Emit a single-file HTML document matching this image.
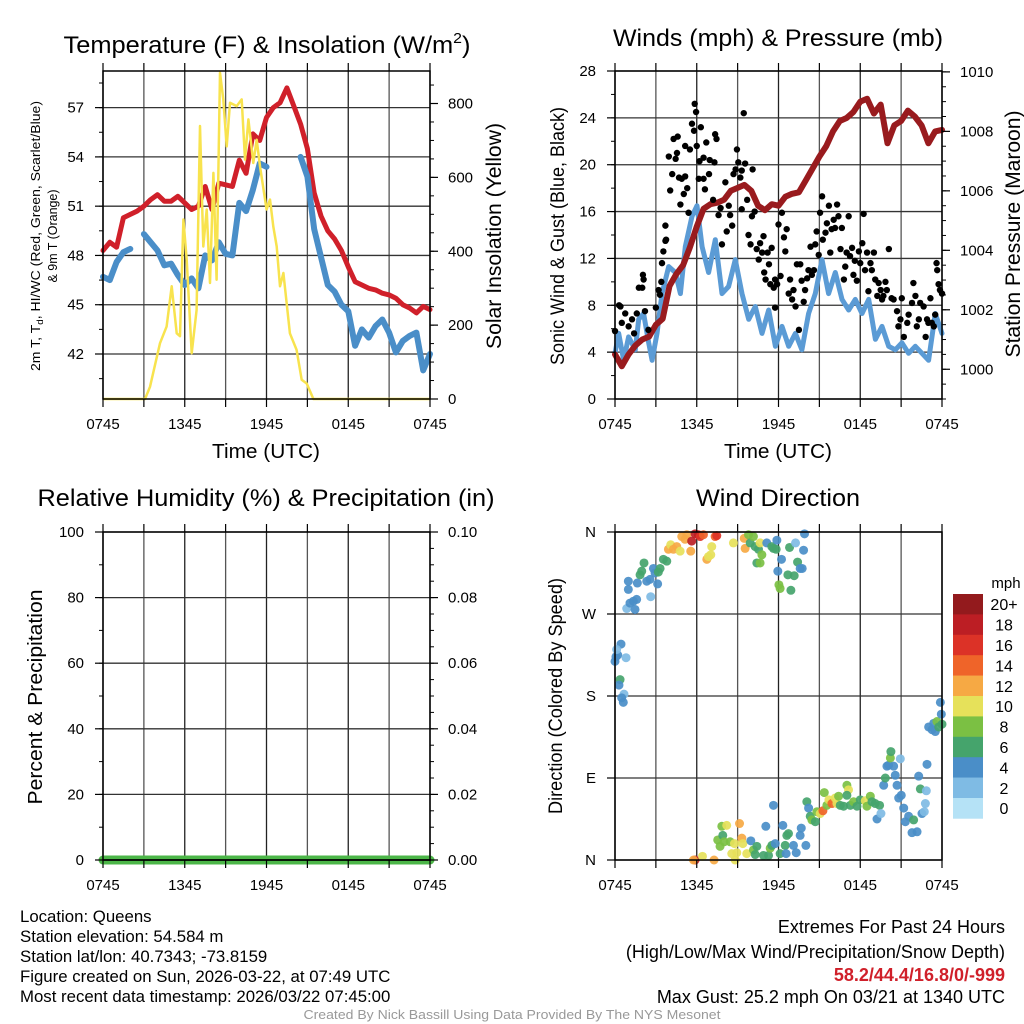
<!DOCTYPE html>
<html><head><meta charset="utf-8"><title>Queens Meteogram</title>
<style>
html,body{margin:0;padding:0;background:#fff;}
svg{display:block;font-family:"Liberation Sans",Arial,sans-serif;}
</style></head>
<body>
<svg id="chart" width="1024" height="1024" viewBox="0 0 1024 1024">
<rect x="0" y="0" width="1024" height="1024" fill="#fff"/>
<g id="layer-grid"></g>
<g id="layer-data"></g>
<g id="layer-axes"></g>
<g font-size="16.8" fill="#000">
<text x="20" y="922">Location: Queens</text>
<text x="20" y="942">Station elevation: 54.584 m</text>
<text x="20" y="962">Station lat/lon: 40.7343; -73.8159</text>
<text x="20" y="982">Figure created on Sun, 2026-03-22, at 07:49 UTC</text>
<text x="20" y="1002">Most recent data timestamp: 2026/03/22 07:45:00</text>
<text x="1005" y="933" text-anchor="end" font-size="18">Extremes For Past 24 Hours</text>
<text x="1005" y="958" text-anchor="end" font-size="18">(High/Low/Max Wind/Precipitation/Snow Depth)</text>
<text x="1005" y="981" text-anchor="end" font-size="18" fill="#d0202a" font-weight="bold">58.2/44.4/16.8/0/-999</text>
<text x="1005" y="1003" text-anchor="end" font-size="18">Max Gust: 25.2 mph On 03/21 at 1340 UTC</text>
<text x="512" y="1019" text-anchor="middle" font-size="13" fill="#999" textLength="417" lengthAdjust="spacingAndGlyphs">Created By Nick Bassill Using Data Provided By The NYS Mesonet</text>
</g>
</svg>
<script>
// ---------- DATA ----------
const timeTicks = ['0745','1345','1945','0145','0745'];
const halfHours = [0,0.5,1,1.5,2,2.5,3,3.5,4,4.5,5,5.5,6,6.5,7,7.5,8,8.5,9,9.5,10,10.5,11,11.5,12,12.5,13,13.5,14,14.5,15,15.5,16,16.5,17,17.5,18,18.5,19,19.5,20,20.5,21,21.5,22,22.5,23,23.5,24];
const tempRed = [48.3,48.8,48.5,50.3,50.5,50.7,51.0,51.4,51.7,51.3,51.3,51.6,51.2,50.8,51.0,52.2,50.8,52.4,52.3,52.2,53.8,53.0,55.4,55.0,56.4,57.0,57.3,58.2,57.1,56.0,54.5,51.8,50.4,49.5,49.0,48.3,47.3,46.4,46.2,46.0,45.9,45.7,45.6,45.4,45.0,44.8,44.5,44.9,44.7];
const tempBlue = [46.7,46.5,47.6,48.2,48.4,null,49.3,48.8,48.3,47.4,47.5,46.8,46.2,46.6,46.0,48.0,47.7,48.8,48.1,48.0,51.2,50.7,52.0,53.6,53.4,null,55.2,null,null,54.0,52.8,49.6,47.9,46.2,45.8,45.0,44.6,42.5,43.5,43.0,43.7,44.1,43.3,42.1,42.8,43.1,43.3,41.0,42.0];
const solarTimes = [0,3.08,3.45,4.18,4.67,5.04,5.41,5.65,5.9,6.14,6.51,6.87,7.12,7.36,7.61,7.85,8.1,8.34,8.59,8.83,9.08,9.32,9.81,10.18,10.42,10.67,11.03,11.28,11.52,12.01,12.26,12.5,12.75,12.99,13.24,13.72,14.21,14.58,14.95,15.44,24];
const solarVals = [0,0,33,151,196,305,178,170,486,377,124,241,739,413,513,314,612,323,883,811,684,802,793,811,648,757,639,702,630,513,540,467,413,305,341,178,133,52,42,0,0];
const pressure = [1000.5,1000.1,1000.5,1000.8,1001.0,1001.1,1001.5,1001.7,1002.8,1003.2,1003.5,1004.1,1004.8,1005.4,1005.55,1005.6,1005.7,1006.0,1006.1,1006.2,1006.0,1005.5,1005.35,1005.55,1005.5,1005.8,1005.9,1005.95,1006.35,1006.75,1007.15,1007.5,1008.0,1008.35,1008.45,1008.65,1009.0,1009.1,1008.6,1008.9,1007.6,1008.2,1008.35,1008.7,1008.5,1008.2,1007.6,1008.0,1008.05];
const windTimes = [0,0.27,0.64,1.0,1.49,1.74,2.1,2.47,2.72,3.08,3.45,3.94,4.43,4.8,5.16,5.65,6.02,6.39,6.87,7.36,7.85,8.34,8.83,9.32,9.81,10.3,10.79,11.28,11.77,12.26,12.75,13.24,13.72,14.21,14.7,15.19,15.68,16.17,16.66,17.15,17.64,18.13,18.62,19.11,19.6,20.09,20.57,21.06,21.55,22.04,22.53,23.02,23.51,24];
const windVals = [3.9,5.6,3.3,5.3,4.2,6.8,7.3,4.8,3.3,5.6,9.0,11.3,10.8,9.0,13.0,15.6,16.5,13.0,10.8,13.6,9.0,9.6,11.9,9.0,6.8,7.9,5.6,7.6,4.5,6.2,4.5,5.6,4.2,7.3,9.0,11.9,9.0,10.8,8.5,7.6,8.5,7.3,8.5,5.1,6.2,4.5,4.2,4.8,3.9,4.5,3.9,3.3,7.3,5.6];
const gustTimes = [0,0.3,0.4,0.5,0.75,1.0,1.25,1.4,1.6,1.75,2.0,2.05,2.1,2.2,2.45,3.0,3.2,3.3,3.4,3.45,3.55,3.7,3.75,3.7,3.95,4.05,4.2,4.3,4.45,4.55,4.6,4.7,4.8,4.9,5.05,5.15,5.15,5.3,5.4,5.5,5.65,5.8,5.85,5.95,6.0,6.15,6.2,6.3,6.5,6.5,6.6,6.7,6.9,6.95,7.2,7.3,7.35,7.45,7.6,7.75,7.85,8.1,8.2,8.35,8.45,8.6,8.7,8.85,8.95,9.05,9.2,9.3,9.3,9.45,9.55,9.7,9.8,9.95,10.05,10.1,10.25,10.4,10.55,10.65,10.8,10.9,10.95,11.05,11.2,11.3,11.4,11.5,11.65,11.75,11.9,11.75,12.0,12.15,12.25,12.4,12.5,12.6,12.75,12.85,13.0,13.1,13.25,13.5,13.35,13.6,13.7,13.85,13.95,14.1,14.2,14.35,14.45,14.6,14.7,14.8,14.95,15.05,15.2,15.25,15.45,15.55,15.7,15.8,15.9,16.05,16.15,16.3,16.4,16.55,16.65,16.8,16.9,17.0,17.15,17.25,17.4,17.5,17.6,17.75,17.9,18.0,18.15,18.25,18.35,18.5,18.6,18.75,18.85,19.0,19.1,19.25,19.35,19.5,19.6,19.7,19.85,19.95,20.1,20.3,20.45,20.7,20.8,20.95,21.2,21.05,21.45,21.55,21.8,21.9,22.05,22.15,22.3,22.4,22.65,22.8,22.9,23.0,23.15,23.25,23.4,23.5,23.6,23.65,23.75,23.85,24.0];
const gustVals = [5.8,8.0,7.9,6.5,7.3,6.2,6.8,5.6,7.3,9.5,9.5,10.6,10.2,7.5,5.9,7.8,9.3,8.9,10.0,11.6,12.6,13.5,13.6,14.8,20.7,17.8,19.2,22.2,20.5,21.0,22.4,18.9,16.6,18.8,17.5,19.0,21.6,18.0,15.9,21.3,23.5,22.9,25.2,24.5,21.6,18.8,20.3,23.2,20.6,18.8,17.9,21.9,19.2,20.4,17.0,20.2,22.6,22.2,15.7,16.3,13.2,18.5,14.3,16.5,15.7,14.8,19.2,19.6,21.3,20.2,18.9,16.2,19.5,24.4,20.1,17.0,14.0,13.2,15.6,19.6,16.0,12.8,11.9,13.3,12.5,13.9,10.8,10.2,12.5,11.5,9.8,12.9,9.5,10.2,9.8,7.8,14.9,10.5,15.9,13.8,12.6,14.5,9.0,10.2,8.5,9.3,7.9,5.9,11.5,11.5,10.1,8.3,9.3,10.3,11.0,13.0,10.6,11.0,13.2,14.3,12.3,15.9,17.3,13.6,14.2,15.0,16.5,12.5,14.5,15.3,14.6,16.6,15.6,12.8,14.6,10.2,11.3,12.5,15.6,12.2,12.9,10.6,11.8,10.1,12.6,11.6,13.3,15.8,11.0,12.5,9.2,11.6,11.0,12.5,10.2,8.8,9.9,9.3,8.5,8.8,10.0,9.3,12.8,8.6,8.5,7.5,6.2,6.8,5.3,8.6,6.5,7.2,8.2,9.9,8.8,6.2,6.8,8.2,7.9,5.3,6.8,6.5,8.6,6.5,6.2,7.2,11.6,11.0,9.8,9.3,9.0];
const precipTimes = [0,2,4,6,8,10,12,14,16,18,20,22,24];
const precipVals = [0,0,0,0,0,0,0,0,0,0,0,0,0];
const dirTimes = [0,0.07,0.2,0.44,0.12,0.81,0.37,0.29,0.66,0.49,0.61,0.86,1.1,1.35,1.47,1.59,0.98,0.98,1.64,1.84,1.96,2.13,2.33,2.57,2.82,2.94,3.13,2.62,3.18,3.31,3.55,3.8,3.92,4.09,4.29,4.53,4.78,4.9,5.14,5.27,5.56,5.63,5.88,6.12,6.25,6.49,6.74,6.86,7.03,7.1,7.35,7.47,8.69,9.55,9.48,9.8,9.92,10.16,10.29,10.53,10.65,10.78,10.41,10.65,11.14,11.51,11.63,11.88,11.83,12.22,11.95,12.03,12.12,12.69,12.81,12.91,13.15,13.25,13.4,13.59,13.74,13.84,13.91,5.88,5.76,6.42,7.27,7.54,7.84,7.91,8.2,8.01,7.71,8.45,8.57,8.77,8.82,8.94,9.14,9.31,9.38,9.67,9.97,10.16,10.29,10.41,10.9,11.07,11.27,11.39,11.51,11.63,11.76,12.12,12.32,12.49,12.56,12.61,12.73,13.1,13.3,13.59,13.67,14.01,14.08,14.21,14.33,14.45,14.7,14.82,15.06,15.26,15.36,15.55,15.7,15.92,16.16,16.29,16.41,16.53,16.78,17.02,17.14,17.02,17.27,17.51,17.76,18.0,18.37,18.49,18.74,18.86,19.1,19.23,19.42,19.52,19.72,19.84,19.96,20.08,20.21,20.25,20.45,20.57,20.7,20.82,20.94,21.01,21.19,21.31,21.55,21.8,21.92,22.17,22.29,22.41,22.53,22.7,22.78,22.85,22.9,23.02,23.27,23.39,23.51,23.63,23.76,23.88,23.95,24];
const dirVals = [218,223,225,237,231,222,198,192,182,178,173,276,282,284,275,286,297,306,304,313,317,326,306,308,320,315,303,289,316,320,330,328,341,346,341,344,339,355,352,357,339,350,358,357,355,357,330,333,335,344,355,356,348,342,353,357,348,355,344,341,348,335,326,326,348,344,342,351,341,330,317,302,298,313,343,296,312,348,327,320,320,340,358,0,0,4,0,22,37,27,38,20,15,20,7,18,0,8,40,24,18,7,21,11,6,15,5,37,5,13,16,60,18,7,38,16,7,27,29,16,8,27,35,16,64,57,48,44,42,53,51,54,74,60,66,62,68,62,70,60,59,82,77,71,60,64,59,66,65,59,70,64,62,45,60,51,82,90,103,104,112,119,103,93,82,68,111,71,57,42,48,30,44,31,92,78,51,53,62,76,105,146,143,150,141,152,146,173,160,149];
const dirSpeeds = [5,5,5,5,3,3,7,5,3,5,5,3,5,5,5,5,5,5,5,7,7,7,5,5,5,5,5,3,7,7,7,7,13,11,13,13,11,13,13,13,13,19,19,19,17,15,13,11,11,11,15,17,11,13,13,9,7,9,7,7,11,9,7,9,5,7,7,5,7,5,5,9,9,7,7,7,7,3,7,5,5,5,5,19,13,11,13,9,9,7,11,9,9,9,11,11,11,11,13,13,11,11,5,9,7,7,7,5,7,9,7,5,5,7,5,7,5,7,7,5,5,5,5,5,7,5,7,9,7,9,11,15,9,9,11,15,11,11,9,7,7,9,11,7,7,9,7,7,11,9,9,7,7,5,7,3,5,7,5,5,9,7,5,5,5,5,3,5,5,5,5,5,7,5,5,7,5,3,3,3,5,5,5,5,5,9,7,5,5,7];
const speedBins = ['0','2','4','6','8','10','12','14','16','18','20+'];
const speedColors = ['#b5e2f6','#7fbbe4','#4a8ec8','#45a46c','#7bc043','#e6e15a','#f6a944','#ef6429','#dc3227','#bc1e24','#931a1d'];

// ---------- HELPERS ----------
const NS = 'http://www.w3.org/2000/svg';
const gridL = document.getElementById('layer-grid');
const dataL = document.getElementById('layer-data');
const axesL = document.getElementById('layer-axes');
function mk(tag, attrs, parent){
  const e = document.createElementNS(NS, tag);
  for (const k in attrs) e.setAttribute(k, attrs[k]);
  parent.appendChild(e);
  return e;
}
function txt(parent, x, y, s, attrs){
  const t = mk('text', Object.assign({x:x, y:y}, attrs||{}), parent);
  t.textContent = s;
  return t;
}
function linScale(d0, d1, r0, r1){ return v => r0 + (v - d0) * (r1 - r0) / (d1 - d0); }
function pathFrom(ts, vs, xs, ys){
  let d = '', pen = false;
  for (let i = 0; i < ts.length; i++){
    if (vs[i] === null){ pen = false; continue; }
    d += (pen ? 'L' : 'M') + xs(ts[i]).toFixed(1) + ',' + ys(vs[i]).toFixed(1);
    pen = true;
  }
  return d;
}

const P1 = {x0:103,x1:430,y0:71,y1:399};
const P2 = {x0:615,x1:942,y0:71,y1:399};
const P3 = {x0:103,x1:430,y0:532,y1:860};
const P4 = {x0:615,x1:942,y0:532,y1:860};

function timeAxis(P, name){
  const xs = linScale(0, 24, P.x0, P.x1);
  const g = mk('g', {}, axesL);
  
  
  for (let h = 0; h <= 24; h += 3){
    const x = xs(h);
    const gl = mk('line', {x1:x, x2:x, y1:P.y0, y2:P.y1, stroke:(h%6===0?'#222':'#555'), 'stroke-width':1.3}, gridL);
    
    
    mk('line', {x1:x, x2:x, y1:P.y0-8, y2:P.y0, stroke:'#000', 'stroke-width':1.2}, g);
    mk('line', {x1:x, x2:x, y1:P.y1, y2:P.y1+8, stroke:'#000', 'stroke-width':1.2}, g);
  }
  timeTicks.forEach((lab, i) => {
    const t = txt(g, xs(i*6), P.y1+30, lab, {'font-size':15, 'text-anchor':'middle'});
    
    
  });
  return xs;
}
function yAxis(P, side, d0, d1, major, minor, fmt, name, grid, labels){
  const ys = linScale(d0, d1, P.y1, P.y0);
  const g = mk('g', {}, axesL);
  
  
  const xe = side === 'left' ? P.x0 : P.x1;
  const dir = side === 'left' ? -1 : 1;
  const eps = 1e-9;
  for (let v = Math.ceil((d0-eps)/minor)*minor; v <= d1 + eps; v += minor){
    const y = ys(v);
    mk('line', {x1:xe, x2:xe + dir*4, y1:y, y2:y, stroke:'#000', 'stroke-width':1}, g);
  }
  let k = 0;
  for (let v = Math.ceil((d0-eps)/major)*major; v <= d1 + eps; v += major){
    const y = ys(v);
    if (grid){
      const gl = mk('line', {x1:P.x0, x2:P.x1, y1:y, y2:y, stroke:'#333', 'stroke-width':1.3}, gridL);
      
      
    }
    mk('line', {x1:xe, x2:xe + dir*8, y1:y, y2:y, stroke:'#000', 'stroke-width':1.2}, g);
    const s = labels ? labels[k] : fmt(v);
    const t = txt(g, side === 'left' ? xe - 19 : xe + 18, y + 5, s, {'font-size':15, 'text-anchor': side === 'left' ? 'end' : 'start'});
    
    
    k++;
  }
  return ys;
}
function frame(P, name){
  const r = mk('rect', {x:P.x0, y:P.y0, width:P.x1-P.x0, height:P.y1-P.y0, fill:'none', stroke:'#000', 'stroke-width':1.5}, axesL);
  
  
}
function title(x, y, s, len, name, size){
  const t = txt(axesL, x, y, s, {'font-size':size||24, 'text-anchor':'middle', textLength:len, lengthAdjust:'spacingAndGlyphs'});
  
  
  return t;
}
function vlabel(cx, cy, s, len, size, name){
  const t = txt(axesL, 0, 0, s, {'font-size':size, 'text-anchor':'middle', transform:'translate('+cx+','+cy+') rotate(-90)', textLength:len, lengthAdjust:'spacingAndGlyphs'});
  
  
  return t;
}

// ---------- PANEL 1: Temperature ----------
(function(){
  const xs = timeAxis(P1, 'temp');
  const yT = yAxis(P1, 'left', 39.26, 59.23, 3, 1.5, v => String(Math.round(v)), 'temp-y-axis', true);
  const yS = yAxis(P1, 'right', 0, 888, 200, 50, v => String(Math.round(v)), 'insolation-y-axis', false);
  const red = mk('path', {d:pathFrom(halfHours, tempRed, xs, yT), fill:'none', stroke:'#d0202a', 'stroke-width':5, 'stroke-linejoin':'round', 'stroke-linecap':'round'}, dataL);
  
  
  const blue = mk('path', {d:pathFrom(halfHours, tempBlue, xs, yT), fill:'none', stroke:'#4a8ec8', 'stroke-width':6, 'stroke-linejoin':'round', 'stroke-linecap':'round'}, dataL);
  
  
  const sol = mk('path', {d:pathFrom(solarTimes, solarVals, xs, yS), fill:'none', stroke:'#f8e34e', 'stroke-width':2.5, 'stroke-linejoin':'round'}, dataL);
  
  
  frame(P1, 'temp-plot-frame');
  const t = title(267, 53, 'Temperature (F) & Insolation (W/m', 392, 'temp-panel-title');
  const sup = document.createElementNS(NS, 'tspan');
  sup.setAttribute('dy', '-10'); sup.setAttribute('font-size', '15'); sup.textContent = '2';
  t.appendChild(sup);
  const cl = document.createElementNS(NS, 'tspan');
  cl.setAttribute('dy', '10'); cl.textContent = ')';
  t.appendChild(cl);
  t.setAttribute('textLength', 407);
  title(266, 458, 'Time (UTC)', 108, 'temp-x-axis-title', 20);
  const l1 = vlabel(40, 236, '', 270, 13, 'temp-y-axis-title');
  const a = document.createElementNS(NS,'tspan'); a.textContent = '2m T, T'; l1.appendChild(a);
  const b = document.createElementNS(NS,'tspan'); b.setAttribute('font-size','9'); b.setAttribute('dy','3'); b.textContent='d'; l1.appendChild(b);
  const c = document.createElementNS(NS,'tspan'); c.setAttribute('dy','-3'); c.textContent=', HI/WC (Red, Green, Scarlet/Blue)'; l1.appendChild(c);
  vlabel(57, 236, '& 9m T (Orange)', 93, 13, 'temp-y-axis-title-line2');
  vlabel(501, 236, 'Solar Insolation (Yellow)', 226, 21, 'insolation-y-axis-title');
})();

// ---------- PANEL 2: Winds ----------
(function(){
  const xs = timeAxis(P2, 'wind');
  const yW = yAxis(P2, 'left', 0, 28, 4, 2, v => String(Math.round(v)), 'wind-y-axis', true);
  const yP = yAxis(P2, 'right', 999.0, 1010.03, 2, 0.5, v => String(Math.round(v)), 'pressure-y-axis', false);
  const w = mk('path', {d:pathFrom(windTimes, windVals, xs, yW), fill:'none', stroke:'#5b9bd5', 'stroke-width':5, 'stroke-linejoin':'round', 'stroke-linecap':'round'}, dataL);
  
  
  const p = mk('path', {d:pathFrom(halfHours, pressure, xs, yP), fill:'none', stroke:'#991b1e', 'stroke-width':6, 'stroke-linejoin':'round', 'stroke-linecap':'round'}, dataL);
  
  
  const gg = mk('g', {}, dataL);
  
  
  for (let i = 0; i < gustTimes.length; i++){
    const c = mk('circle', {cx:xs(gustTimes[i]), cy:yW(gustVals[i]), r:3.2, fill:'#000'}, gg);
    
    
  }
  frame(P2, 'wind-plot-frame');
  title(778, 46, 'Winds (mph) & Pressure (mb)', 330, 'wind-panel-title');
  title(778, 458, 'Time (UTC)', 108, 'wind-x-axis-title', 20);
  vlabel(564, 236, 'Sonic Wind & Gust (Blue, Black)', 258, 19, 'wind-y-axis-title');
  vlabel(1020, 234, 'Station Pressure (Maroon)', 247, 21, 'pressure-y-axis-title');
})();

// ---------- PANEL 3: RH & Precip ----------
(function(){
  const xs = timeAxis(P3, 'rh');
  yAxis(P3, 'left', 0, 100, 20, 10, v => String(Math.round(v)), 'rh-y-axis', true);
  const yPr = yAxis(P3, 'right', 0, 0.10, 0.02, 0.005, v => v.toFixed(2), 'precip-y-axis', false);
  const pr = mk('path', {d:pathFrom(precipTimes, precipVals, xs, yPr), fill:'none', stroke:'#4cb648', 'stroke-width':9, 'stroke-linecap':'round'}, dataL);
  
  
  mk('line', {x1:P3.x0, x2:P3.x1, y1:P3.y1, y2:P3.y1, stroke:'#000', 'stroke-width':1.5}, axesL);
  frame(P3, 'rh-plot-frame');
  title(266, 506, 'Relative Humidity (%) & Precipitation (in)', 457, 'rh-panel-title');
  vlabel(42, 697, 'Percent & Precipitation', 215, 20, 'rh-y-axis-title');
})();

// ---------- PANEL 4: Wind Direction ----------
(function(){
  const xs = timeAxis(P4, 'direction');
  const yD = yAxis(P4, 'left', 0, 360, 90, 90, v => '', 'direction-y-axis', true, ['N','E','S','W','N']);
  const gd = mk('g', {}, dataL);
  
  
  for (let i = 0; i < dirTimes.length; i++){
    const bin = Math.min(10, Math.floor(dirSpeeds[i] / 2));
    const c = mk('circle', {cx:xs(dirTimes[i]), cy:yD(dirVals[i]), r:4.5, fill:speedColors[bin], 'fill-opacity':0.92}, gd);
    
    
  }
  frame(P4, 'direction-plot-frame');
  title(778, 506, 'Wind Direction', 164, 'direction-panel-title');
  vlabel(562, 696, 'Direction (Colored By Speed)', 236, 19, 'direction-y-axis-title');
  const lg = mk('g', {}, axesL);
  
  
  const h = 20.4;
  for (let i = 0; i < speedBins.length; i++){
    const j = speedBins.length - 1 - i;
    const y = 594 + i*h;
    const r = mk('rect', {x:953, y:y, width:30, height:h+0.3, fill:speedColors[j]}, lg);
    
    
    const t = txt(lg, 1004, y + h/2 + 6, speedBins[j], {'font-size':16, 'text-anchor':'middle'});
    
    
  }
  const u = txt(lg, 1006, 588, 'mph', {'font-size':15, 'text-anchor':'middle'});
  
  
})();
</script>
</body></html>
